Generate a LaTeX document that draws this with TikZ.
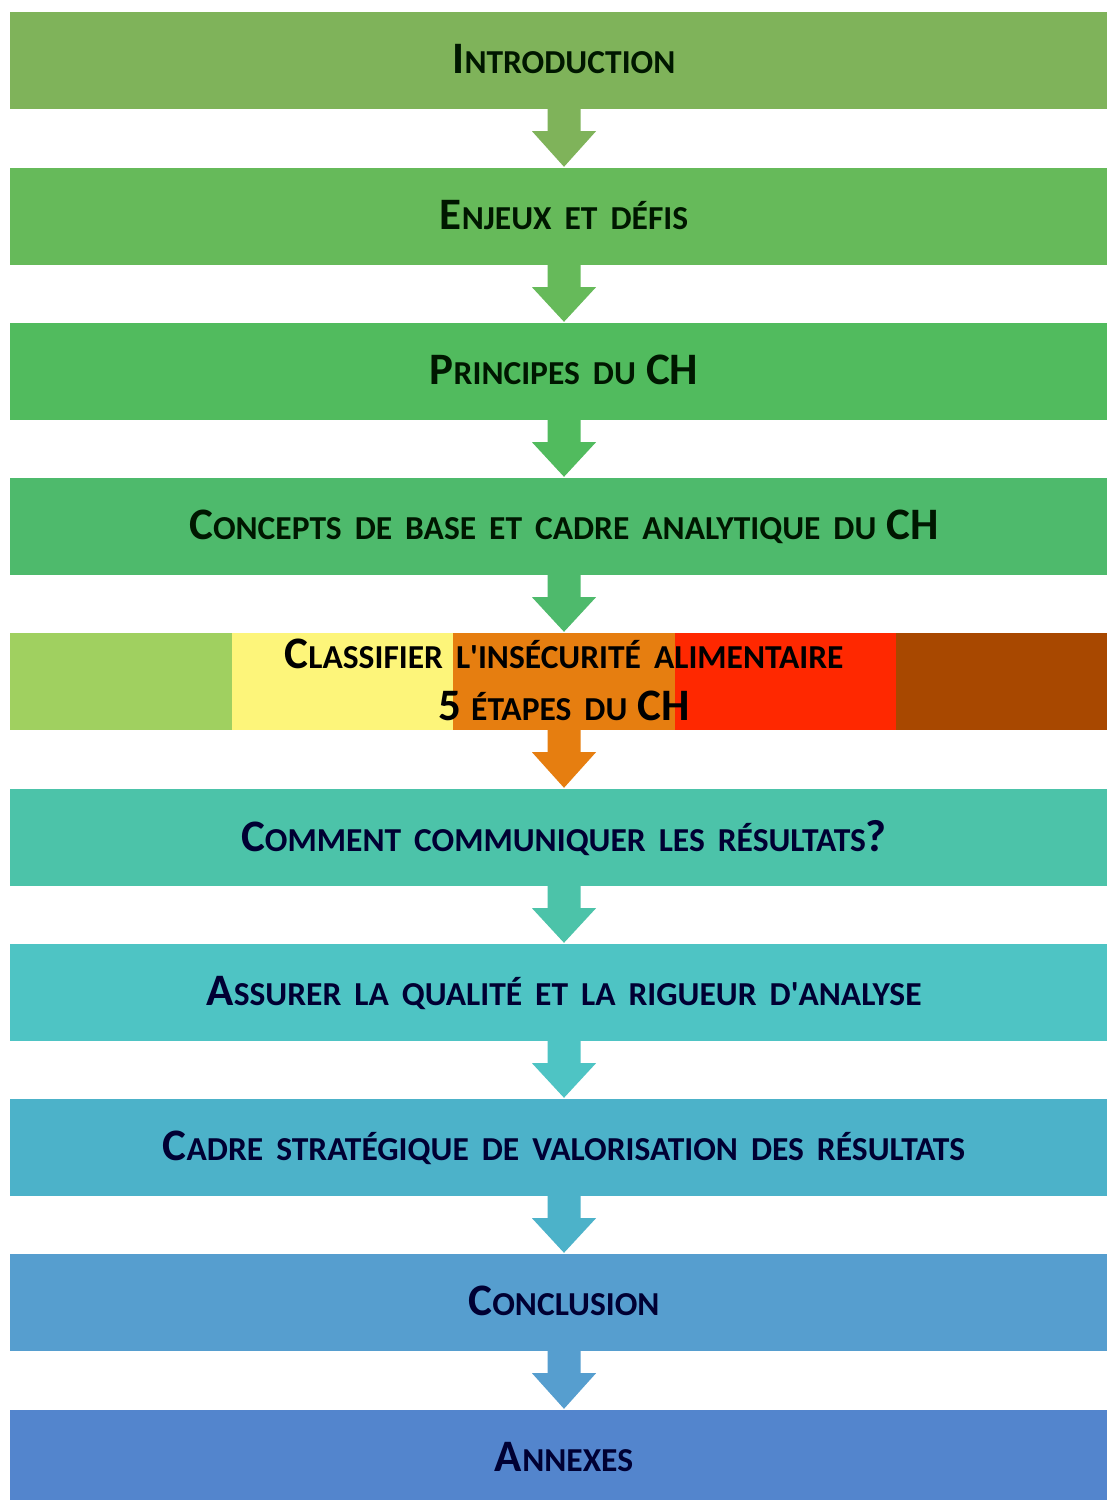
\documentclass[tikz,border=0pt]{standalone}
\usepackage{fontspec}
\setmainfont{Carlito}
\usetikzlibrary{calc}
\definecolor{bar1}{HTML}{7FB35A}
\definecolor{bar2}{HTML}{66BA5A}
\definecolor{bar3}{HTML}{51BB5E}
\definecolor{bar4}{HTML}{4EBA6C}
\definecolor{bar6}{HTML}{4CC3A9}
\definecolor{bar7}{HTML}{4EC4C4}
\definecolor{bar8}{HTML}{4CB2C9}
\definecolor{bar9}{HTML}{569ECF}
\definecolor{bar10}{HTML}{5385CD}
\definecolor{ch1}{HTML}{A0D060}
\definecolor{ch2}{HTML}{FDF57A}
\definecolor{ch3}{HTML}{E67E10}
\definecolor{ch4}{HTML}{FF2800}
\definecolor{ch5}{HTML}{A84800}
\colorlet{greentext}{black!85!green!60!black}
\colorlet{bluetext}{black!80!blue}
% petites capitales simulees
\newcommand\petit[1]{{\fontsize{33.5}{33.5}\selectfont\spaceskip=13pt #1}}

\begin{document}
\begin{tikzpicture}[x=1pt, y=-1pt,
    bar/.style={rectangle, minimum width=1108pt, minimum height=97pt, inner sep=0pt,
      text depth=3pt, align=center, font=\fontsize{45}{52}\selectfont\bfseries},
    blockarrow/.style={fill=#1, to path={
      ($(\tikztostart.south)+(-16.5,-2)$) -- ($(\tikztostart.south)+(-16.5,22)$)
      -- ($(\tikztostart.south)+(-32,22)$) -- ($(\tikztotarget.north)+(0,-1)$)
      -- ($(\tikztostart.south)+(32,22)$) -- ($(\tikztostart.south)+(16.5,22)$)
      -- ($(\tikztostart.south)+(16.5,-2)$) -- cycle}}
  ]
  \def\xc{564}
  \def\segw{221.6}
  \clip (0,0) rectangle (1107,1500);
  \fill [white] (0,0) rectangle (1107,1500);

  \node [bar, fill=bar1, text=greentext] (intro) at (\xc, 60.5) {I\petit{NTRODUCTION}};
  \node [bar, fill=bar2, text=greentext] (enjeux) at (\xc, 216.5) {E\petit{NJEUX ET DÉFIS}};
  \node [bar, fill=bar3, text=greentext] (principes) at (\xc, 371.5) {P\petit{RINCIPES DU} CH};
  \node [bar, fill=bar4, text=greentext] (concepts) at (\xc, 526.5) {C\petit{ONCEPTS DE BASE ET CADRE ANALYTIQUE DU} CH};

  % les cinq phases derriere le titre
  \fill [ch1] (10, 633) rectangle ++(\segw, 97);
  \fill [ch2] (10 + \segw, 633) rectangle ++(\segw, 97);
  \fill [ch3] (10 + 2*\segw, 633) rectangle ++(\segw, 97);
  \fill [ch4] (10 + 3*\segw, 633) rectangle ++(\segw, 97);
  \fill [ch5] (10 + 4*\segw, 633) rectangle ++(\segw, 97);
  \node [bar, text=black] (classifier) at (\xc, 681.5)
    {C\petit{LASSIFIER L\textquotesingle INSÉCURITÉ ALIMENTAIRE}\\5 \petit{ÉTAPES DU} CH};

  \node [bar, fill=bar6, text=bluetext] (communiquer) at (\xc, 837.5) {C\petit{OMMENT COMMUNIQUER LES RÉSULTATS}?};
  \node [bar, fill=bar7, text=bluetext] (qualite) at (\xc, 992.5) {A\petit{SSURER LA QUALITÉ ET LA RIGUEUR D\textquotesingle ANALYSE}};
  \node [bar, fill=bar8, text=bluetext] (cadre) at (\xc, 1147.5) {C\petit{ADRE STRATÉGIQUE DE VALORISATION DES RÉSULTATS}};
  \node [bar, fill=bar9, text=bluetext] (conclusion) at (\xc, 1302.5) {C\petit{ONCLUSION}};
  \node [bar, fill=bar10, text=bluetext] (annexes) at (\xc, 1458.5) {A\petit{NNEXES}};

  \path [blockarrow=bar1] (intro) to (enjeux);
  \path [blockarrow=bar2] (enjeux) to (principes);
  \path [blockarrow=bar3] (principes) to (concepts);
  \path [blockarrow=bar4] (concepts) to (classifier);
  \path [blockarrow=ch3] (classifier) to (communiquer);
  \path [blockarrow=bar6] (communiquer) to (qualite);
  \path [blockarrow=bar7] (qualite) to (cadre);
  \path [blockarrow=bar8] (cadre) to (conclusion);
  \path [blockarrow=bar9] (conclusion) to (annexes);
\end{tikzpicture}
\end{document}
